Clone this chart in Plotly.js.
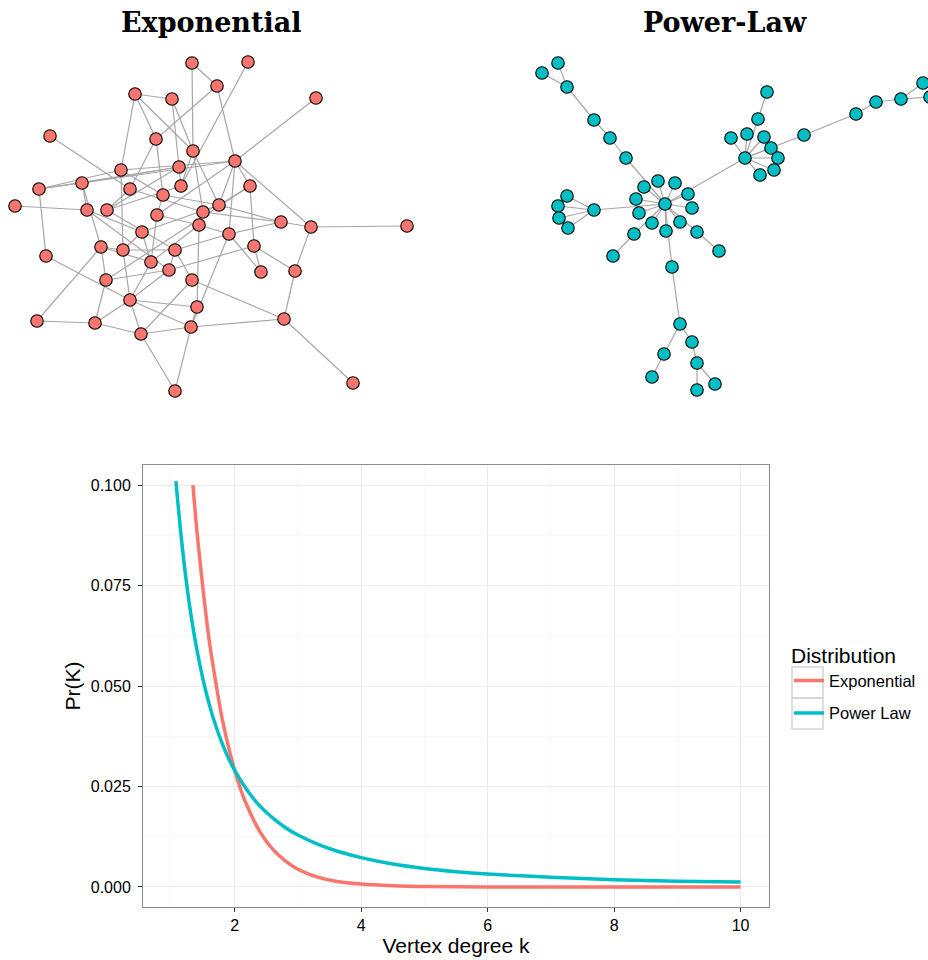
<!DOCTYPE html>
<html>
<head>
<meta charset="utf-8">
<script src="https://cdn.plot.ly/plotly-3.0.1.min.js"></script>
<style>html,body{margin:0;padding:0;background:#fff;}#chart{width:928px;height:960px;}</style>
</head>
<body>
<div id="chart"></div>
<script>
// ---------- Network layouts (node positions) ----------
const expNodeX = [192,248,135,172,217,316,50,156,193,235,121,179,82,39,130,181,250,163,15,87,107,157,203,219,199,281,311,407,142,229,101,123,175,254,46,151,169,261,295,106,192,130,197,37,95,141,191,284,353,175];
const expNodeY = [63,62,94,99,86,98,136,139,151,161,170,167,183,189,189,186,186,195,206,210,210,215,212,205,225,222,227,226,232,234,247,250,250,246,256,262,270,272,271,280,280,300,307,321,323,334,327,319,383,391];
const expEdgeFrom = [1,1,2,3,3,3,4,4,5,5,6,7,8,8,9,9,9,10,10,10,10,10,10,10,11,11,13,13,13,14,15,15,16,17,17,17,18,18,19,20,20,21,22,22,23,23,24,24,25,25,25,26,26,27,27,29,29,30,30,30,31,31,31,32,32,33,33,34,34,34,35,36,37,37,39,40,41,41,42,42,42,42,44,44,45,46,46,47,47,48,43,12,11,14,3,20,21];
const expEdgeTo   = [5,9,16,4,11,9,12,9,8,10,10,15,18,15,16,23,24,11,13,17,24,27,30,22,32,14,14,12,31,35,21,23,21,24,34,40,24,22,20,29,37,12,25,36,24,26,26,29,30,43,36,27,30,28,39,32,36,38,33,47,40,32,36,33,42,37,41,39,38,37,42,42,42,40,48,45,48,46,43,45,47,46,45,31,46,47,50,50,48,49,47,16,18,12,8,13,33];

const powNodeX = [558,542,567,594,610,626,658,675,644,636,688,692,567,558,594,639,559,568,652,680,666,697,634,613,719,672,680,692,664,697,652,715,697,665,745,767,758,731,747,764,771,778,774,760,804,856,876,901,923,930];
const powNodeY = [63,73,87,120,138,158,181,183,187,199,194,208,196,206,210,213,218,228,223,222,231,232,234,256,251,267,324,342,354,363,377,384,390,204,158,92,119,138,134,137,148,158,170,175,135,114,102,99,83,97];
const powEdgeFrom = [1,2,3,4,5,6,34,34,34,34,34,34,34,34,34,34,34,34,34,23,34,26,27,27,29,28,30,30,22,15,15,15,15,34,35,37,35,35,35,35,35,35,35,35,45,46,47,48,48];
const powEdgeTo   = [3,3,4,5,6,34,7,8,9,10,11,12,16,19,20,21,22,15,23,24,26,27,28,29,31,30,33,32,25,13,14,17,18,35,37,36,38,39,40,41,42,43,44,45,46,47,48,49,50];

// ---------- Degree distribution values ----------
const seriesNames = ["Exponential", "Power Law"];
const kExp  = [1.34,1.4,1.5,1.6,1.7,1.8,1.9,2.0,2.1,2.2,2.4,2.6,2.8,3.0,3.3,3.6,4.0,4.5,5.0,6.0,7.0,8.0,9.0,10.0];
const prExp = [0.100,0.089,0.074,0.061,0.051,0.042,0.035,0.029,0.024,0.020,0.0137,0.0094,0.0065,0.0044,0.0025,0.0014,0.0007,0.0003,0.0001,0,0,0,0,0];
const kPow  = [1.07,1.1,1.15,1.2,1.25,1.3,1.4,1.5,1.6,1.7,1.8,1.9,2.0,2.2,2.4,2.6,2.8,3.0,3.3,3.6,4.0,4.5,5.0,5.5,6.0,7.0,8.0,9.0,10.0];
const prPow = [0.1010,0.0959,0.0877,0.0806,0.0742,0.0686,0.0592,0.0516,0.0453,0.0401,0.0358,0.0321,0.0290,0.0240,0.0201,0.0172,0.0148,0.0129,0.0107,0.0090,0.0073,0.0057,0.0046,0.0038,0.0032,0.0024,0.0018,0.0014,0.0012];
const xTickVals = [2,4,6,8,10];
const yTickVals = [0,0.025,0.05,0.075,0.1];

const RED = "#F8766D", TEAL = "#00BFC4";
const FONT = "Liberation Sans, Arial, sans-serif";

function edgeTrace(nx, ny, from, to) {
  const xs = [], ys = [];
  for (let i = 0; i < from.length; i++) {
    const a = from[i]-1, b = to[i]-1;
    xs.push(nx[a], nx[b], null);
    ys.push(ny[a], ny[b], null);
  }
  return {type:"scatter", mode:"lines", x:xs, y:ys, xaxis:"x2", yaxis:"y2",
          line:{color:"#a6a6a6", width:1.2}, hoverinfo:"skip", showlegend:false};
}
function nodeTrace(nx, ny, color) {
  return {type:"scatter", mode:"markers", x:nx, y:ny, xaxis:"x2", yaxis:"y2",
          marker:{size:12.5, color:color, line:{color:"#000", width:1.1}},
          hoverinfo:"skip", showlegend:false};
}

const traces = [
  edgeTrace(expNodeX, expNodeY, expEdgeFrom, expEdgeTo),
  edgeTrace(powNodeX, powNodeY, powEdgeFrom, powEdgeTo),
  nodeTrace(expNodeX, expNodeY, RED),
  nodeTrace(powNodeX, powNodeY, TEAL),
  {type:"scatter", mode:"lines", name:seriesNames[0], x:kExp, y:prExp, legendgroup:"a",
   line:{color:RED, width:3.5, shape:"spline", smoothing:0.8}},
  {type:"scatter", mode:"lines", name:seriesNames[1], x:kPow, y:prPow, legendgroup:"b",
   line:{color:TEAL, width:3.5, shape:"spline", smoothing:0.8}}
];

// legend key boxes (ggplot style)
const keyBox = (y0, y1) => ({type:"rect", xref:"paper", yref:"paper",
  x0:792/928, x1:823/928, y0:1-y1/960, y1:1-y0/960, line:{color:"#d4d4d4", width:1.5}, fillcolor:"rgba(0,0,0,0)", layer:"below"});

const layout = {
  width:928, height:960,
  margin:{l:0, r:0, t:0, b:0},
  paper_bgcolor:"#fff", plot_bgcolor:"#fff",
  font:{family:FONT, color:"#000"},
  xaxis:{domain:[143/928, 769/928], range:[0.55,10.45], tickvals:xTickVals, ticktext:xTickVals.map(String),
         showgrid:true, gridcolor:"#ebebeb", gridwidth:1, zeroline:false,
         minor:{tickvals:[1,3,5,7,9], showgrid:true, gridcolor:"#f4f4f4", gridwidth:0.6, ticks:""},
         showline:true, mirror:true, linecolor:"#8a8a8a", linewidth:1,
         ticks:"outside", ticklen:4, tickcolor:"#333", tickwidth:1,
         tickfont:{size:16, family:FONT, color:"#000"},
         title:{text:"Vertex degree k", font:{size:21, family:FONT}, standoff:4}},
  yaxis:{domain:[1-907/960, 1-465/960], range:[-0.005,0.105], tickvals:yTickVals,
         ticktext:yTickVals.map(v=>v.toFixed(3)),
         showgrid:true, gridcolor:"#ebebeb", gridwidth:1, zeroline:false,
         minor:{tickvals:[0.0125,0.0375,0.0625,0.0875], showgrid:true, gridcolor:"#f4f4f4", gridwidth:0.6, ticks:""},
         showline:true, mirror:true, linecolor:"#8a8a8a", linewidth:1,
         ticks:"outside", ticklen:4, tickcolor:"#333", tickwidth:1, ticklabelstandoff:4,
         tickfont:{size:16, family:FONT, color:"#000"},
         title:{text:"Pr(K)", font:{size:21, family:FONT}, standoff:4}},
  xaxis2:{domain:[0,1], range:[0,928], visible:false, fixedrange:true},
  yaxis2:{domain:[1-430/960,1], range:[430,0], visible:false, fixedrange:true},
  showlegend:true,
  legend:{x:789/928, xanchor:"left", y:1-636/960, yanchor:"top", bgcolor:"rgba(0,0,0,0)",
          title:{text:"Distribution", font:{size:21, family:FONT}},
          font:{size:16.5, family:FONT}, itemwidth:30, tracegroupgap:8, traceorder:"grouped"},
  shapes:[keyBox(667,698), keyBox(698,729)],
  annotations:[
    {text:"<b>Exponential</b>", x:211/928, y:1-23/960, xref:"paper", yref:"paper", showarrow:false,
     xanchor:"center", yanchor:"middle", font:{family:"DejaVu Serif, serif", size:27, color:"#000"}},
    {text:"<b>Power-Law</b>", x:725/928, y:1-23/960, xref:"paper", yref:"paper", showarrow:false,
     xanchor:"center", yanchor:"middle", font:{family:"DejaVu Serif, serif", size:27, color:"#000"}}
  ]
};

Plotly.newPlot("chart", traces, layout, {displayModeBar:false, staticPlot:true});
</script>
</body>
</html>
